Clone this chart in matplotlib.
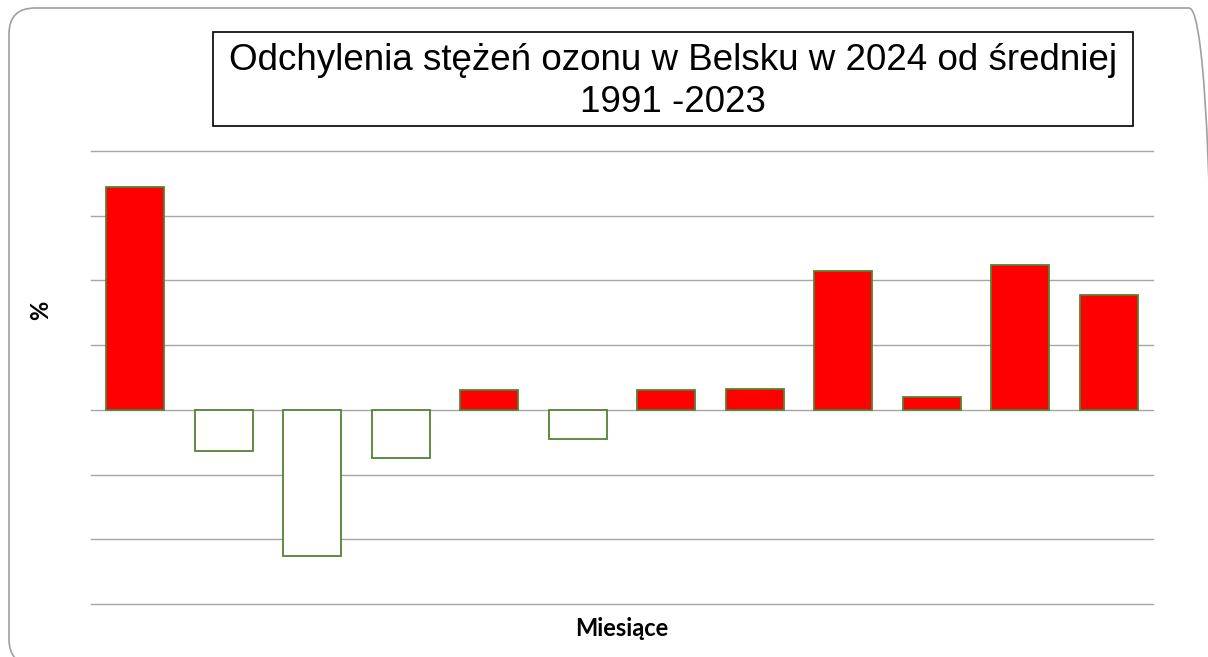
import matplotlib.pyplot as plt
import matplotlib.patches as mpatches

# monthly deviation of ozone concentration, 2024 vs 1991-2023 mean (%)
months = ["I", "II", "III", "IV", "V", "VI", "VII", "VIII", "IX", "X", "XI", "XII"]
deviation = [3.45, -0.63, -2.26, -0.74, 0.31, -0.45, 0.30, 0.32, 2.15, 0.20, 2.24, 1.77]

title_line1 = "Odchylenia stężeń ozonu w Belsku w 2024 od średniej"
title_line2 = "1991 -2023"
x_label = "Miesiące"
y_label = "%"

title_font = ["Liberation Sans", "DejaVu Sans"]
label_font = ["Lato", "DejaVu Sans"]

W, H = 1208, 657
fig = plt.figure(figsize=(W / 100, H / 100), dpi=100)

# rounded chart border, drawn in pixels so the corners stay round
border = mpatches.FancyBboxPatch((9, -8), 1206, 657,
                                 boxstyle="round,pad=0,rounding_size=26",
                                 transform=None, fill=False,
                                 edgecolor="#a0a0a0", linewidth=1.2)
fig.patches.append(border)

ax = fig.add_axes([91 / W, 1 - 604 / H, (1153 - 91) / W, (604 - 151) / H])

colors = ["red" if v > 0 else "white" for v in deviation]
ax.bar(range(len(months)), deviation, width=0.66, color=colors,
       edgecolor="#548235", linewidth=1.3, zorder=3)

ax.set_xlim(-0.5, len(months) - 0.5)
ax.set_ylim(-3, 4)
ax.set_yticks(range(-3, 5))
ax.set_xticks([])
ax.set_yticklabels([])
ax.tick_params(axis="y", length=0)
ax.yaxis.grid(True, color="#a6a6a6", linewidth=1.0, zorder=0)
ax.set_axisbelow(True)
for line in ax.get_ygridlines():
    line.set_clip_on(False)
for s in ax.spines.values():
    s.set_visible(False)

fig.text(622 / W, 1 - 629 / H, x_label, family=label_font, fontweight="bold",
         fontsize=17, ha="center", va="center")
fig.text(41 / W, 1 - 310 / H, y_label, family=label_font, fontweight="bold",
         fontsize=17, rotation=90, ha="center", va="center")

# title box
box = mpatches.Rectangle((213 / W, 1 - 126 / H), (1133 - 213) / W, (126 - 32) / H,
                         transform=fig.transFigure, fill=False,
                         edgecolor="black", linewidth=1.2)
fig.patches.append(box)
fig.text(673 / W, 1 - 61 / H, title_line1, family=title_font, fontsize=26.5,
         ha="center", va="center")
fig.text(673 / W, 1 - 102 / H, title_line2, family=title_font, fontsize=26.5,
         ha="center", va="center")

fig.savefig("out.png", dpi=100)
